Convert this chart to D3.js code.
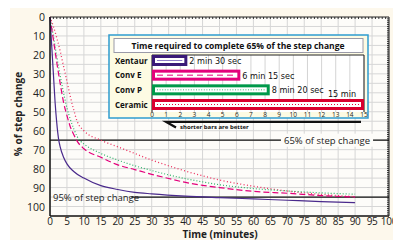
<!DOCTYPE html>
<html>
<head>
<meta charset="utf-8">
<script src="https://cdn.jsdelivr.net/npm/d3@7"></script>
<style>
  body { margin: 0; background: #ffffff; }
  svg { display: block; font-family: "Open Sans", "DejaVu Sans", sans-serif; }
  .narrow { font-family: "Liberation Sans Narrow", "DejaVu Sans Condensed", sans-serif; font-stretch: condensed; }
</style>
</head>
<body>
<svg id="chart" width="393" height="240"></svg>
<script>
// response curves (minutes, % of step change)
var xentaurT = [0, 0.5, 1, 1.5, 2, 2.5, 3, 4, 5, 7, 10, 15, 20, 25, 30, 40, 50, 60, 70, 80, 90];
var xentaurY = [0, 15, 30, 45, 56, 64, 68.5, 74, 77.5, 81.5, 85, 89, 91, 92.5, 93.3, 94.5, 95.3, 96, 96.7, 97.4, 98];

var convET = [0, 1, 2, 3, 4, 5, 6, 7, 8, 10, 15, 20, 25, 30, 35, 40, 45, 50, 60, 70, 80, 90];
var convEY = [0, 12, 24, 35, 45, 52, 58, 62, 65.5, 69.5, 74, 78, 80.5, 83, 85.2, 87.3, 88.8, 90, 92, 93, 94.2, 95];

var convPT = [0, 1, 2, 3, 4, 5, 6, 7, 8, 9, 10, 15, 20, 25, 30, 35, 40, 45, 50, 60, 70, 80, 90];
var convPY = [0, 10, 21, 31, 40, 48, 54, 59, 63, 65.5, 67, 72, 75.5, 78.5, 81, 83.3, 85.3, 87, 88.5, 90.5, 91.8, 92.8, 93.5];

var ceramicT = [0, 1, 2, 3, 4, 5, 6, 7, 8, 10, 15, 20, 25, 30, 35, 40, 45, 50, 60, 70, 80, 90];
var ceramicY = [0, 5, 11, 18, 26, 34, 42, 49, 55, 60, 65, 68.5, 72, 75.5, 78.5, 81.3, 83.8, 86, 89.3, 91.8, 93.6, 94.8];

// inset bars
var barNames = ["Xentaur", "Conv E", "Conv P", "Ceramic"];
var barMinutes = [2.5, 6.25, 8.33, 15];
var barLabels = ["2 min 30 sec", "6 min 15 sec", "8 min 20 sec", "15 min"];

// axis ticks
var xTicks = d3.range(0, 101, 5);
var yTicks = d3.range(0, 101, 10);
var barTicks = d3.range(0, 16, 1);

var colors = {
    "Xentaur": "#4a2a8c",
    "Conv E": "#e3007b",
    "Conv P": "#2fb36a",
    "Ceramic": "#ec2c5c"
};
var barBorder = {
    "Xentaur": "#3a1a78",
    "Conv E": "#e3007b",
    "Conv P": "#00994a",
    "Ceramic": "#d9002e"
};
var barInner = {
    "Xentaur": ["#8e7cc8", null],
    "Conv E": ["#e3007b", "6,4"],
    "Conv P": ["#3cb878", "1,1.6"],
    "Ceramic": ["#e8003c", "1,2"]
};

var svg = d3.select("#chart");

// cream panel
svg.append("rect")
    .attr("x", 10).attr("y", 8)
    .attr("width", 383).attr("height", 232)
    .attr("fill", "#fdf8ec");

var pLeft = 50, pRight = 389, pTop = 17, pBottom = 216;

var x = d3.scaleLinear().domain([0, 100]).range([pLeft, pRight]);
var y = d3.scaleLinear().domain([0, 105]).range([pTop, pBottom]);

svg.append("rect")
    .attr("x", pLeft).attr("y", pTop)
    .attr("width", pRight - pLeft).attr("height", pBottom - pTop)
    .attr("fill", "#fdfcf9");

// grid
svg.append("g").selectAll("line")
    .data(xTicks)
    .enter().append("line")
    .attr("x1", d => x(d)).attr("x2", d => x(d))
    .attr("y1", pTop).attr("y2", pBottom)
    .attr("stroke", "#d6d6d6").attr("stroke-width", 1);

svg.append("g").selectAll("line")
    .data(d3.range(5, 105, 5))
    .enter().append("line")
    .attr("x1", pLeft).attr("x2", pRight)
    .attr("y1", d => y(d)).attr("y2", d => y(d))
    .attr("stroke", "#d6d6d6").attr("stroke-width", 1);

// top and right border with minor ticks
svg.append("g").selectAll("line")
    .data(d3.range(1, 100, 1))
    .enter().append("line")
    .attr("x1", d => x(d)).attr("x2", d => x(d))
    .attr("y1", pTop).attr("y2", pTop + 2)
    .attr("stroke", "#333");
svg.append("g").selectAll("line")
    .data(d3.range(1, 105, 1))
    .enter().append("line")
    .attr("x1", pRight - 2).attr("x2", pRight)
    .attr("y1", d => y(d)).attr("y2", d => y(d))
    .attr("stroke", "#333");
svg.append("path")
    .attr("d", "M" + pLeft + "," + pTop + "H" + pRight + "V" + pBottom)
    .attr("fill", "none").attr("stroke", "#222").attr("stroke-width", 1);

// reference lines
svg.append("line")
    .attr("x1", pLeft).attr("x2", pRight)
    .attr("y1", y(65)).attr("y2", y(65))
    .attr("stroke", "#111").attr("stroke-width", 1.3);
svg.append("line")
    .attr("x1", x(24)).attr("x2", pRight)
    .attr("y1", y(95)).attr("y2", y(95))
    .attr("stroke", "#111").attr("stroke-width", 1.3);

// curves
var line = d3.line()
    .x(d => x(d[0]))
    .y(d => y(d[1]))
    .curve(d3.curveMonotoneX);

var curves = [
    { name: "Ceramic", t: ceramicT, v: ceramicY, dash: "1,2.4", w: 1.3 },
    { name: "Conv P", t: convPT, v: convPY, dash: "1,2", w: 1.2 },
    { name: "Conv E", t: convET, v: convEY, dash: "6,3", w: 1.2 },
    { name: "Xentaur", t: xentaurT, v: xentaurY, dash: null, w: 1.2 }
];

svg.append("g").selectAll("path")
    .data(curves)
    .enter().append("path")
    .attr("d", d => line(d.t.map((t, i) => [t, d.v[i]])))
    .attr("fill", "none")
    .attr("stroke", d => colors[d.name])
    .attr("stroke-width", d => d.w)
    .attr("stroke-dasharray", d => d.dash);

// reference labels
var lab65 = svg.append("text")
    .attr("x", 327).attr("y", y(65) + 3.5)
    .attr("text-anchor", "middle")
    .style("font-size", "9.5px")
    .attr("fill", "#222")
    .text("65% of step change");
var b65 = lab65.node().getBBox();
svg.insert("rect", "text")
    .attr("x", b65.x - 3).attr("y", b65.y)
    .attr("width", b65.width + 6).attr("height", b65.height)
    .attr("fill", "#fdfcf9");

svg.append("text")
    .attr("x", 53).attr("y", y(95) + 3.5)
    .style("font-size", "9.5px")
    .attr("fill", "#222")
    .text("95% of step change");

// axes
svg.append("line")
    .attr("x1", pLeft).attr("x2", pLeft)
    .attr("y1", pTop).attr("y2", pBottom)
    .attr("stroke", "#111").attr("stroke-width", 1.5);
svg.append("line")
    .attr("x1", pLeft).attr("x2", pRight)
    .attr("y1", pBottom).attr("y2", pBottom)
    .attr("stroke", "#111").attr("stroke-width", 1.5);

svg.append("g").selectAll("text")
    .data(yTicks)
    .enter().append("text")
    .attr("x", 45).attr("y", d => y(d) + 4)
    .attr("text-anchor", "end")
    .style("font-size", "10.5px")
    .attr("fill", "#222")
    .text(d => d);

svg.append("g").selectAll("text")
    .data(xTicks)
    .enter().append("text")
    .attr("x", d => x(d)).attr("y", 225)
    .attr("text-anchor", "middle")
    .style("font-size", "10px")
    .style("letter-spacing", "-0.3px")
    .attr("fill", "#222")
    .text(d => d);

svg.append("text")
    .attr("transform", "translate(22,114)rotate(-90)")
    .attr("text-anchor", "middle")
    .style("font-size", "10px")
    .style("font-weight", "bold")
    .attr("fill", "#222")
    .text("% of step change");

svg.append("text")
    .attr("x", 220).attr("y", 238)
    .attr("text-anchor", "middle")
    .style("font-size", "10px")
    .style("font-weight", "bold")
    .attr("fill", "#222")
    .text("Time (minutes)");

// ---- inset bar chart ----
var inset = svg.append("g");
inset.append("rect")
    .attr("x", 109).attr("y", 35)
    .attr("width", 259).attr("height", 83)
    .attr("fill", "#fdfbe3")
    .attr("stroke", "#2e9ccf").attr("stroke-width", 1.5);

inset.append("rect")
    .attr("x", 114).attr("y", 38.5)
    .attr("width", 249).attr("height", 14)
    .attr("fill", "#ffffff")
    .attr("stroke", "#9a9aa8").attr("stroke-width", 1);
inset.append("text")
    .attr("x", 238).attr("y", 48.5)
    .attr("text-anchor", "middle")
    .style("font-size", "8.5px")
    .style("font-weight", "bold")
    .attr("fill", "#111")
    .text("Time required to complete 65% of the step change");

var xb = d3.scaleLinear().domain([0, 15]).range([152, 364]);
var yb = d3.scaleBand().domain(barNames).range([55, 110]).paddingInner(0.25);

inset.append("rect")
    .attr("x", xb(0)).attr("y", 55)
    .attr("width", xb(15) - xb(0)).attr("height", 57)
    .attr("fill", "#ffffff");

inset.append("g").selectAll("line")
    .data(barTicks)
    .enter().append("line")
    .attr("x1", d => xb(d)).attr("x2", d => xb(d))
    .attr("y1", 55).attr("y2", 112)
    .attr("stroke", "#d4d4d4");

inset.append("path")
    .attr("d", "M" + xb(0) + ",112V55H" + xb(15) + "V112")
    .attr("fill", "none").attr("stroke", "#222").attr("stroke-width", 1);

var rows = inset.append("g").selectAll("g")
    .data(barNames)
    .enter().append("g");

rows.append("rect")
    .attr("x", d => xb(0) + 1.5)
    .attr("y", d => yb(d) + 1.5)
    .attr("width", (d, i) => xb(barMinutes[i]) - xb(0) - 3)
    .attr("height", yb.bandwidth() - 3)
    .attr("fill", "#ffffff")
    .attr("stroke", d => barBorder[d])
    .attr("stroke-width", 3);

rows.append("line")
    .attr("x1", d => xb(0) + 5)
    .attr("x2", (d, i) => xb(barMinutes[i]) - 5)
    .attr("y1", d => yb(d) + yb.bandwidth() / 2)
    .attr("y2", d => yb(d) + yb.bandwidth() / 2)
    .attr("stroke", d => barInner[d][0])
    .attr("stroke-width", 1)
    .attr("stroke-dasharray", d => barInner[d][1]);

rows.append("text")
    .attr("x", 115)
    .attr("y", d => yb(d) + yb.bandwidth() / 2 + 3)
    .style("font-size", "8px")
    .style("font-weight", "bold")
    .attr("fill", "#111")
    .text(d => d);

rows.append("text")
    .attr("class", "narrow")
    .attr("x", (d, i) => i == 3 ? 342 : xb(barMinutes[i]) + 2)
    .attr("y", (d, i) => i == 3 ? yb(d) - 2 : yb(d) + yb.bandwidth() / 2 + 3.5)
    .attr("text-anchor", (d, i) => i == 3 ? "middle" : "start")
    .style("font-size", "9px")
    .attr("fill", "#111")
    .text((d, i) => barLabels[i]);

inset.append("g").selectAll("text")
    .data(barTicks)
    .enter().append("text")
    .attr("x", d => xb(d)).attr("y", 117)
    .attr("text-anchor", "middle")
    .style("font-size", "6.5px")
    .attr("fill", "#222")
    .text(d => d);

// "shorter bars are better" pointer
svg.append("path")
    .attr("d", "M176,127.5L166,121.8H361")
    .attr("fill", "none").attr("stroke", "#111").attr("stroke-width", 2.2);
svg.append("text")
    .attr("x", 180).attr("y", 129)
    .style("font-size", "6px")
    .style("font-weight", "bold")
    .attr("fill", "#111")
    .text("shorter bars are better");
</script>
</body>
</html>
